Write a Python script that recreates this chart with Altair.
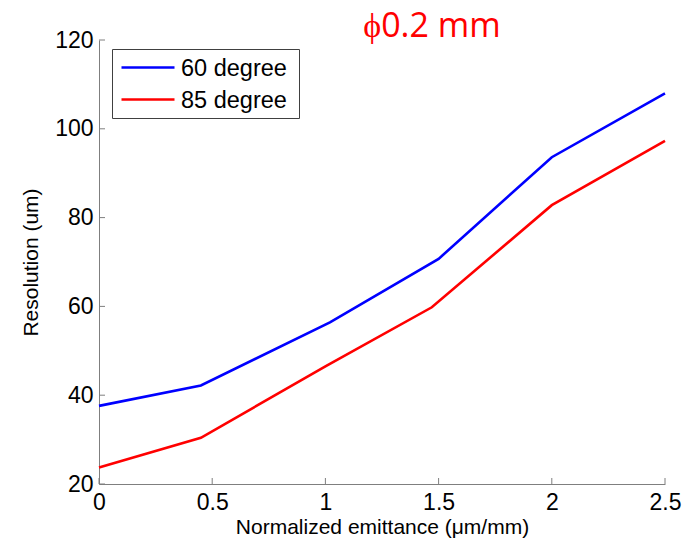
import altair as alt
import pandas as pd

# Resolution vs. normalized emittance for two detector angles
x_60 = [0.0, 0.45, 1.02, 1.5, 2.0, 2.5]
res_60 = [37.6, 42.2, 56.4, 70.7, 93.6, 108.0]
x_85 = [0.0, 0.45, 1.0, 1.47, 2.0, 2.5]
res_85 = [23.7, 30.4, 46.5, 59.8, 82.8, 97.3]

series_names = ["60 degree", "85 degree"]
series_colors = ["#0000ff", "#ff0000"]

x_ticks = [0, 0.5, 1, 1.5, 2, 2.5]
y_ticks = [20, 40, 60, 80, 100, 120]

df = pd.concat([
    pd.DataFrame({"emit": x_60, "res": res_60, "series": series_names[0]}),
    pd.DataFrame({"emit": x_85, "res": res_85, "series": series_names[1]}),
])
legend_df = pd.DataFrame({"series": series_names})

W, H = 566, 444
FONT = "Liberation Sans"
AXIS_GRAY = "#7f7f7f"

xscale = alt.Scale(domain=[0, 2.5], nice=False)
yscale = alt.Scale(domain=[20, 120], nice=False)
cscale = alt.Scale(domain=series_names, range=series_colors)

lines = alt.Chart(df).mark_line(strokeWidth=2.6).encode(
    x=alt.X("emit:Q", scale=xscale,
            axis=alt.Axis(values=x_ticks, title="Normalized emittance (\u03bcm/mm)",
                          tickSize=0, labelPadding=7, labelFontSize=23, labelFont=FONT,
                          labelColor="black", titleFont=FONT, titleFontSize=21,
                          titleFontWeight="normal", titleColor="black", titlePadding=2,
                          domainColor=AXIS_GRAY, grid=False, labelFlush=False,
                          labelExpr="datum.value + ''")),
    y=alt.Y("res:Q", scale=yscale,
            axis=alt.Axis(values=y_ticks, title="Resolution (um)",
                          tickSize=0, labelPadding=6, labelFontSize=23, labelFont=FONT,
                          labelColor="black", titleFont=FONT, titleFontSize=21,
                          titleFontWeight="normal", titleColor="black", titlePadding=13,
                          domainColor=AXIS_GRAY, grid=False, labelFlush=False)),
    color=alt.Color("series:N", scale=cscale, legend=None),
    order="emit:Q",
)

# inward tick marks along the bottom and left axes
xt = alt.Chart(pd.DataFrame({"t": x_ticks})).mark_rule(color=AXIS_GRAY, strokeWidth=1).encode(
    x=alt.X("t:Q", scale=xscale), y=alt.value(H), y2=alt.value(H - 6))
yt = alt.Chart(pd.DataFrame({"t": y_ticks})).mark_rule(color=AXIS_GRAY, strokeWidth=1).encode(
    y=alt.Y("t:Q", scale=yscale), x=alt.value(0), x2=alt.value(6))

# boxed legend in the upper-left corner
row_scale = alt.Scale(type="point", domain=series_names, range=[27.5, 59.5], padding=0)
leg_box = alt.Chart(legend_df.head(1)).mark_rect(
    fill="white", stroke="#404040", strokeWidth=1
).encode(x=alt.value(13.5), x2=alt.value(200.5), y=alt.value(9.5), y2=alt.value(78.5))
leg_lines = alt.Chart(legend_df).mark_rule(strokeWidth=2.6).encode(
    x=alt.value(22.5), x2=alt.value(75.5),
    y=alt.Y("series:N", scale=row_scale, axis=None),
    color=alt.Color("series:N", scale=cscale, legend=None),
)
leg_text = alt.Chart(legend_df).mark_text(
    font=FONT, fontSize=23.5, color="black", align="left", baseline="middle", dy=1
).encode(
    x=alt.value(82), y=alt.Y("series:N", scale=row_scale, axis=None), text="series:N"
)

# heading above the plot area
head = alt.Chart(pd.DataFrame({"label": ["\u03d50.2 mm"]})).mark_text(
    font="Open Sans", fontSize=34, color="#ff0000", align="center", baseline="alphabetic"
).encode(text="label:N", x=alt.value(333), y=alt.value(-3))

main = alt.layer(lines, xt, yt)
legend = alt.layer(leg_box, leg_lines, leg_text)

chart = alt.layer(main, legend, head).resolve_scale(y="independent").properties(
    width=W, height=H,
    autosize=alt.AutoSizeParams(type="none"),
    padding={"left": 99, "top": 40, "right": 30, "bottom": 62},
).configure(background="white").configure_view(stroke="transparent")

chart.save("out.html", embed_options={"renderer": "svg", "actions": False})
